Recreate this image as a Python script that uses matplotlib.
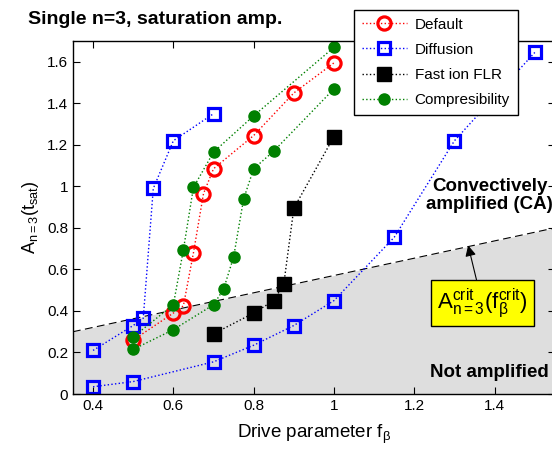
import matplotlib
matplotlib.use('Agg')
import matplotlib.pyplot as plt
import numpy as np

plt.rcParams['font.family'] = ['Liberation Sans', 'DejaVu Sans']
plt.rcParams['mathtext.fontset'] = 'custom'
plt.rcParams['mathtext.rm'] = 'Liberation Sans'
plt.rcParams['mathtext.it'] = 'Liberation Sans'
plt.rcParams['mathtext.bf'] = 'Liberation Sans:bold'

# data
default_x = [0.5, 0.6, 0.625, 0.65, 0.675, 0.7, 0.8, 0.9, 1.0]
default_y = [0.26, 0.39, 0.425, 0.68, 0.965, 1.085, 1.245, 1.45, 1.595]

# diffusion: two branches, separated by nan
diff_x = [0.4, 0.5, 0.525, 0.55, 0.6, 0.7, np.nan,
          0.4, 0.5, 0.7, 0.8, 0.9, 1.0, 1.15, 1.3, 1.5]
diff_y = [0.21, 0.33, 0.365, 0.99, 1.22, 1.35, np.nan,
          0.035, 0.06, 0.155, 0.235, 0.33, 0.45, 0.755, 1.22, 1.645]

flr_x = [0.7, 0.8, 0.85, 0.875, 0.9, 1.0]
flr_y = [0.29, 0.39, 0.45, 0.53, 0.895, 1.24]

comp_x = [0.5, 0.6, 0.625, 0.65, 0.7, 0.8, 1.0, np.nan,
          0.5, 0.6, 0.7, 0.725, 0.75, 0.775, 0.8, 0.85, 1.0]
comp_y = [0.275, 0.43, 0.695, 0.995, 1.165, 1.34, 1.67, np.nan,
          0.215, 0.31, 0.43, 0.505, 0.66, 0.94, 1.085, 1.17, 1.47]

crit_x = [0.35, 1.55]
crit_y = [0.30, 0.80]

fig = plt.figure(figsize=(5.52, 4.5), dpi=100)
ax = fig.add_axes([0.1322, 0.1244, 0.873, 0.7844])

ax.fill_between(crit_x, 0, crit_y, color='#dedede', lw=0, zorder=0)
ax.plot(crit_x, crit_y, color='black', ls=(0, (7, 4)), lw=0.8, zorder=1)

ax.plot(default_x, default_y, ls=':', color='red', lw=1, marker='o', ms=9.5,
        mfc='none', mec='red', mew=2.3, label='Default')
ax.plot(diff_x, diff_y, ls=':', color='blue', lw=1, marker='s', ms=8,
        mfc='none', mec='blue', mew=2.3, label='Diffusion')
ax.plot(flr_x, flr_y, ls=':', color='black', lw=1, marker='s', ms=9.5,
        mfc='black', mec='black', label='Fast ion FLR')
ax.plot(comp_x, comp_y, ls=':', color='green', lw=1, marker='o', ms=8,
        mfc='green', mec='green', label='Compresibility')

ax.set_xlim(0.35, 1.55)
ax.set_ylim(0, 1.7)
ax.set_xticks([0.4, 0.6, 0.8, 1.0, 1.2, 1.4])
ax.set_xticklabels(['0.4', '0.6', '0.8', '1', '1.2', '1.4'])
ax.set_yticks([0, 0.2, 0.4, 0.6, 0.8, 1.0, 1.2, 1.4, 1.6])
ax.set_yticklabels(['0', '0.2', '0.4', '0.6', '0.8', '1', '1.2', '1.4', '1.6'])
ax.tick_params(direction='in', top=True, right=True, labelsize=11, length=5, width=0.8)
for s in ax.spines.values():
    s.set_linewidth(1)

ax.set_xlabel(r'Drive parameter f$_\beta$', fontsize=13.5, labelpad=7)
ax.set_ylabel(r'A$_{n=3}$(t$_{sat}$)', fontsize=13, labelpad=4)

fig.text(28 / 552, 1 - 19 / 450, 'Single n=3, saturation amp.', fontsize=14,
         fontweight='bold', ha='left', va='center')

ax.text(1.3875, 0.957, 'Convectively\namplified (CA)', fontsize=13.5,
        fontweight='bold', ha='center', va='center', linespacing=1.05)
ax.text(1.3875, 0.106, 'Not amplified', fontsize=13.5, fontweight='bold',
        ha='center', va='center')

ax.annotate(r'A$_{n=3}^{crit}$(f$_\beta^{crit}$)', xy=(1.334, 0.716),
            xytext=(1.369, 0.437), fontsize=16, ha='center', va='center',
            bbox=dict(boxstyle='square,pad=0.28', fc='yellow', ec='black', lw=1),
            arrowprops=dict(arrowstyle='-|>', color='black', lw=0.8,
                            mutation_scale=16, shrinkA=0, shrinkB=0))

fig.legend(loc='upper left', bbox_to_anchor=(354 / 552, 1 - 10 / 450),
           borderaxespad=0, fontsize=11, frameon=True, fancybox=False,
           framealpha=1, edgecolor='black', handlelength=2.95, labelspacing=0.73,
           borderpad=0.5, handletextpad=0.52)

fig.savefig('out.png', dpi=100)
